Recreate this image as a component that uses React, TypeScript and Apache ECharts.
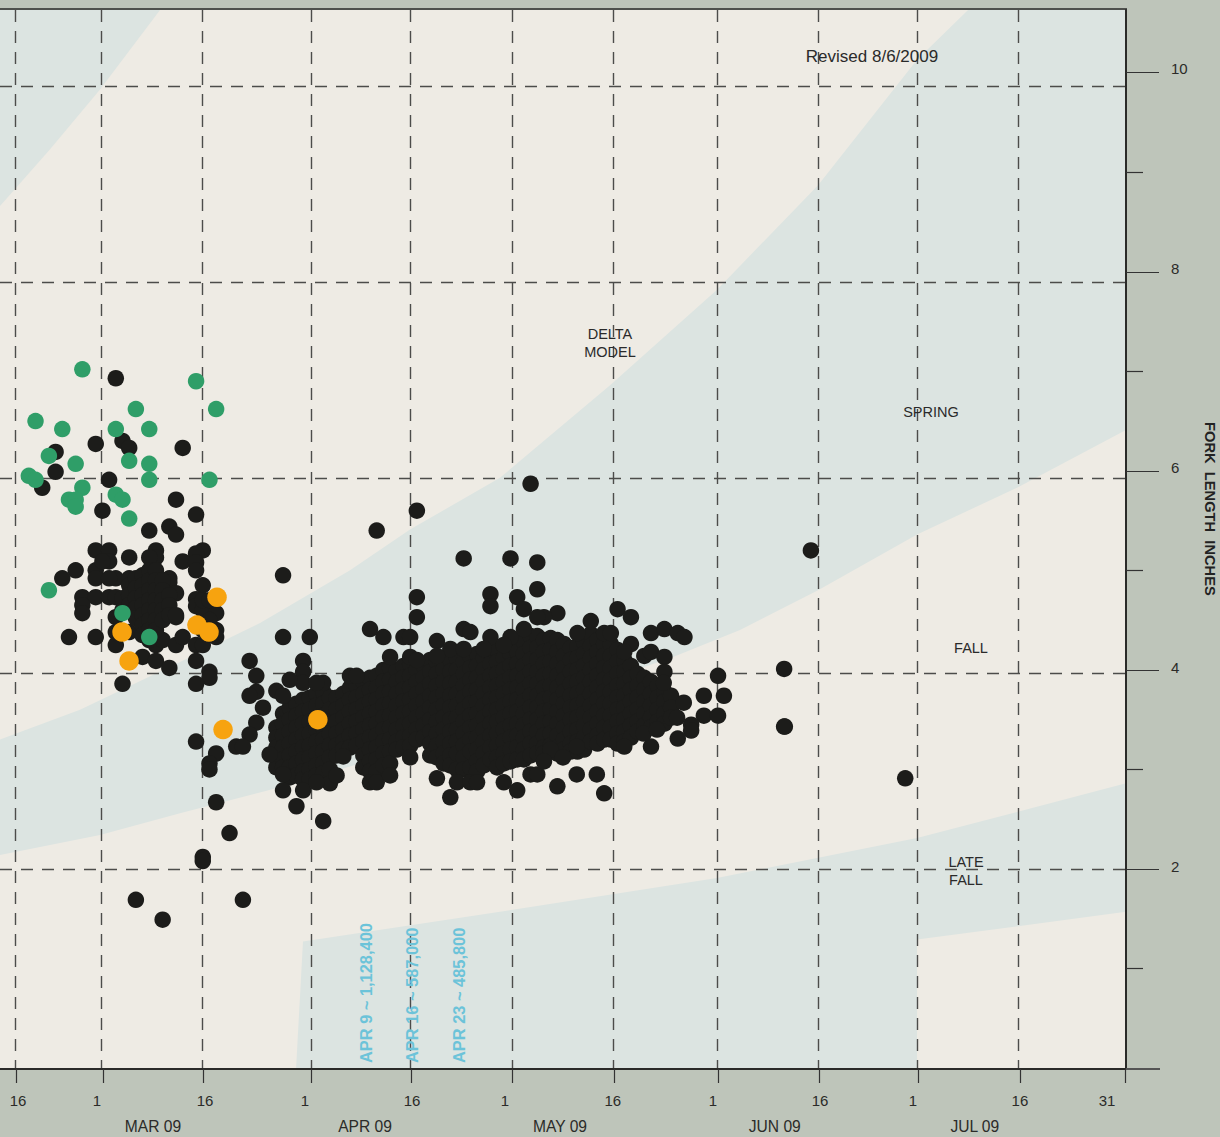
import React, { useEffect, useRef } from "react";
import * as echarts from "echarts";

// x unit: days since 1 March 2009; y unit: fork length in inches
const X_MIN = -15.31;
const X_MAX = 153;
const Y_MIN = -0.01;
const Y_MAX = 10.63;

const tickDays = [-12.81, 0.09, 15.14, 31.18, 46.17, 61.3, 76.47, 92.02, 107.12, 121.91, 137.15, 152.96];
const gridDays = [-13.02, -0.21, 14.89, 31.23, 45.98, 61.23, 76.3, 91.87, 106.97, 121.77, 136.91];
const gridInches = [9.86, 7.89, 5.93, 3.97, 2.0];
const labelDays = [-12.62, -0.81, 15.34, 30.28, 46.28, 60.18, 76.3, 91.27, 107.27, 121.16, 137.15, 150.17];
const labelTexts = ["16", "1", "16", "1", "16", "1", "16", "1", "16", "1", "16", "31"];
const monthDays = [7.56, 39.25, 68.4, 100.5, 130.4];
const monthTexts = ["MAR 09", "APR 09", "MAY 09", "JUN 09", "JUL 09"];
const majorInches = [2, 4, 6, 8, 10];
const minorInches = [1, 3, 5, 7, 9];
const inchLabelAt = [2.02, 4.02, 6.03, 8.03, 10.04];
const inchLabelTexts = ["2", "4", "6", "8", "10"];

const winterBand: number[][] = [[-15.31, 10.63], [8.61, 10.63], [-0.36, 9.83], [-7.83, 9.23], [-15.31, 8.66]];
const springBand: number[][] = [
  [-15.31, 3.3], [-3.35, 3.6], [11.6, 4.08], [23.56, 4.47], [37.01, 5.0], [45.98, 5.41], [59.43, 5.93], [75.88, 6.86],
  [91.87, 7.82], [106.97, 8.87], [121.77, 10.13], [129.39, 10.63], [153, 10.63], [153, 6.41], [137, 5.84], [121.77, 5.36],
  [106.97, 4.8], [95.3, 4.4], [85.3, 4.13], [76.3, 3.92], [66.9, 3.7], [51.96, 3.35], [37.01, 3.03], [26.55, 2.82],
  [11.6, 2.56], [-0.36, 2.34], [-15.31, 2.14],
];
const lateFallBand: number[][] = [
  [28.94, -0.01], [29.98, 1.27], [59.43, 1.57], [91.87, 1.91], [121.77, 2.31], [153, 2.86], [153, 1.57], [121.77, 1.29], [121.77, -0.01],
];

const greenFish: number[][] = [
  [-3, 7.02], [14, 6.9], [5, 6.62], [17, 6.62], [-10, 6.5], [-6, 6.42], [2, 6.42], [7, 6.42], [-8, 6.15], [-4, 6.07],
  [4, 6.1], [7, 6.07], [-11, 5.95], [-10, 5.91], [7, 5.91], [16, 5.91], [-3, 5.83], [-5, 5.71], [-4, 5.71], [-4, 5.64],
  [2, 5.76], [3, 5.71], [4, 5.52], [-8, 4.8], [3, 4.57], [7, 4.33],
];
const orangeFish: number[][] = [[17.13, 4.73], [2.93, 4.38], [14.14, 4.45], [15.93, 4.38], [3.98, 4.09], [18.03, 3.4], [32.2, 3.5]];

const earlyFish: number[][] = [
  [2, 6.93], [-1, 6.27], [3, 6.3], [4, 6.23], [-7, 6.19], [-7, 5.99], [-9, 5.83], [1, 5.91], [12, 6.23], [11, 5.71],
  [14, 5.56], [0, 5.6], [7, 5.4], [10, 5.44], [11, 5.36], [-1, 5.2], [1, 5.2], [4, 5.13], [8, 5.2], [8, 5.13], [7, 5.13],
  [15, 5.2], [14, 5.17], [12, 5.09], [14, 5.08], [14, 5.0], [-4, 5.0], [-6, 4.92], [-1, 5.0], [-1, 4.92], [1, 5.09],
  [0, 5.09], [2, 4.92], [1, 4.92], [4, 4.92], [10, 4.92], [10, 4.88], [11, 4.77], [15, 4.85], [-3, 4.73], [-1, 4.73],
  [-3, 4.65], [-3, 4.57], [1, 4.73], [2, 4.73], [14, 4.71], [14, 4.64], [15, 4.6], [17, 4.57], [11, 4.53], [2, 4.53],
  [-5, 4.33], [-1, 4.33], [2, 4.25], [2, 4.38], [4, 4.38], [7, 4.53], [8, 4.25], [9, 4.3], [11, 4.25], [12, 4.33],
  [14, 4.25], [15, 4.25], [17, 4.4], [17, 4.33], [6, 4.13], [8, 4.09], [10, 4.02], [3, 3.86], [15, 4.7], [16, 4.7],
  [16, 4.5], [16, 4.4], [14, 4.45], [15, 4.4], [3, 4.72], [3, 4.6], [4, 4.85], [4, 4.75], [4, 4.65], [5, 4.92], [5, 4.82],
  [5, 4.72], [5, 4.62], [5, 4.52], [6, 4.95], [6, 4.85], [6, 4.75], [6, 4.65], [6, 4.55], [6, 4.45], [6, 4.35], [7, 5.0],
  [7, 4.9], [7, 4.8], [7, 4.7], [7, 4.6], [7, 4.5], [7, 4.4], [7, 4.3], [8, 5.0], [8, 4.9], [8, 4.8], [8, 4.7], [8, 4.6],
  [8, 4.5], [8, 4.4], [9, 4.9], [9, 4.8], [9, 4.7], [9, 4.6], [9, 4.5], [10, 4.75], [10, 4.65], [10, 4.55], [11, 4.55],
];

const scatteredFish: number[][] = [
  [27, 4.95], [27, 4.33], [31, 4.33], [22, 4.09], [30, 4.09], [14, 4.09], [16, 3.98], [16, 3.92], [14, 3.86], [23, 3.94],
  [30, 3.98], [30, 3.87], [28, 3.9], [23, 3.78], [22, 3.74], [26, 3.79], [27, 3.74], [24, 3.62], [23, 3.47], [22, 3.35],
  [20, 3.23], [21, 3.23], [14, 3.28], [17, 3.16], [16, 3.06], [16, 3.0], [17, 2.67], [19, 2.36], [33, 2.48], [29, 2.63],
  [27, 2.79], [30, 2.79], [27, 2.95], [34, 2.86], [35, 2.94], [25, 3.15], [32, 2.87], [33, 3.87], [32, 3.87], [37, 3.94],
  [38, 3.94], [43, 4.13], [46, 4.13], [42, 4.33], [40, 4.41], [45, 4.33], [46, 4.33], [47, 4.73], [47, 4.53], [58, 4.76],
  [58, 4.64], [62, 4.73], [63, 4.61], [65, 4.81], [50, 4.29], [54, 4.41], [55, 4.38], [58, 4.33], [52, 4.21], [54, 4.21],
  [57, 4.21], [47, 4.1], [50, 4.14], [61, 4.33], [63, 4.41], [60, 4.25], [36, 3.13], [46, 3.12], [40, 2.87], [41, 2.87],
  [43, 2.94], [50, 2.91], [52, 2.72], [53, 2.87], [55, 2.87], [56, 2.87], [60, 2.87], [62, 2.79], [64, 2.95], [65, 2.95],
  [68, 4.57], [66, 4.53], [65, 4.53], [73, 4.49], [71, 4.37], [75, 4.37], [76, 4.37], [77, 4.61], [79, 4.53], [82, 4.37],
  [84, 4.41], [86, 4.37], [87, 4.33], [79, 4.26], [78, 4.18], [81, 4.14], [82, 4.18], [84, 4.13], [84, 3.98], [92.02, 3.94],
  [89.9, 3.74], [92.9, 3.74], [89.9, 3.54], [92.02, 3.54], [88, 3.45], [88, 3.39], [86, 3.31], [86.9, 3.67],
  [85.9, 3.52], [83.9, 3.87], [82, 3.23], [78, 3.23], [80.9, 3.36], [82.9, 3.4], [67, 3.2], [68.84, 3.12], [66, 3.08],
  [70.9, 2.95], [73.9, 2.95], [68, 2.83], [75, 2.76], [70.9, 3.23], [41, 5.4], [47, 5.6], [64, 5.87], [54, 5.12],
  [61, 5.12], [65, 5.08], [105.9, 5.2], [101.9, 4.01], [102, 3.43], [101.9, 3.43], [120, 2.91], [5, 1.69], [9, 1.49],
  [21, 1.69], [15, 2.12], [15, 2.08],
];

const massDays = [26, 27, 28, 29, 30, 31, 32, 33, 34, 35, 36, 37, 38, 39, 40, 41, 42, 43, 44, 45, 46, 47, 48, 49, 50, 51, 52, 53, 54, 55, 56, 57, 58, 59, 60, 61, 62, 63, 64, 65, 66, 67, 68, 69, 70, 71, 72, 73, 74, 75, 76, 77, 78, 79, 80, 81, 82, 83, 84, 85];
const massLengths: number[][] = [
  [3.42, 3.32, 3.22, 3.12, 3.02],
  [3.56, 3.46, 3.34, 3.22, 3.1, 3.02],
  [3.62, 3.5, 3.38, 3.26, 3.14, 3.02, 2.92],
  [3.66, 3.54, 3.42, 3.3, 3.18, 3.06, 2.94],
  [3.7, 3.58, 3.46, 3.34, 3.22, 3.1, 2.98, 2.9],
  [3.72, 3.6, 3.48, 3.36, 3.24, 3.12, 3.0, 2.9],
  [3.76, 3.64, 3.52, 3.4, 3.28, 3.16, 3.04, 2.94],
  [3.78, 3.66, 3.54, 3.42, 3.3, 3.18, 3.06, 2.96],
  [3.72, 3.6, 3.48, 3.36, 3.24, 3.12, 3.0],
  [3.72, 3.6, 3.48, 3.36, 3.24, 3.14],
  [3.76, 3.64, 3.52, 3.4, 3.28, 3.2],
  [3.82, 3.7, 3.58, 3.46, 3.34, 3.22],
  [3.84, 3.72, 3.6, 3.48, 3.36, 3.24],
  [3.88, 3.76, 3.64, 3.52, 3.4, 3.28, 3.14, 3.02],
  [3.92, 3.8, 3.68, 3.56, 3.44, 3.32, 3.2, 3.08, 2.98],
  [3.94, 3.82, 3.7, 3.58, 3.46, 3.34, 3.22, 3.1, 2.98],
  [4.0, 3.88, 3.76, 3.64, 3.52, 3.4, 3.28, 3.16, 3.04],
  [4.02, 3.9, 3.78, 3.66, 3.54, 3.42, 3.3, 3.18, 3.06],
  [4.0, 3.88, 3.76, 3.64, 3.52, 3.4, 3.28, 3.2],
  [4.04, 3.92, 3.8, 3.68, 3.56, 3.44, 3.32, 3.22],
  [4.06, 3.94, 3.82, 3.7, 3.58, 3.46, 3.34, 3.24],
  [4.0, 3.88, 3.76, 3.64, 3.52, 3.4, 3.3],
  [4.04, 3.92, 3.8, 3.68, 3.56, 3.44, 3.32],
  [4.1, 3.98, 3.86, 3.74, 3.62, 3.5, 3.38, 3.26, 3.14],
  [4.08, 3.96, 3.84, 3.72, 3.6, 3.48, 3.36, 3.24, 3.12],
  [4.12, 4.0, 3.88, 3.76, 3.64, 3.52, 3.4, 3.28, 3.16, 3.06],
  [4.1, 3.98, 3.86, 3.74, 3.62, 3.5, 3.38, 3.26, 3.14, 3.04],
  [4.12, 4.0, 3.88, 3.76, 3.64, 3.52, 3.4, 3.28, 3.16, 3.0],
  [4.08, 3.96, 3.84, 3.72, 3.6, 3.48, 3.36, 3.24, 3.12, 3.0],
  [4.14, 4.02, 3.9, 3.78, 3.66, 3.54, 3.42, 3.3, 3.18, 3.02],
  [4.16, 4.04, 3.92, 3.8, 3.68, 3.56, 3.44, 3.32, 3.2, 3.08, 2.98],
  [4.12, 4.0, 3.88, 3.76, 3.64, 3.52, 3.4, 3.28, 3.16, 3.04],
  [4.18, 4.06, 3.94, 3.82, 3.7, 3.58, 3.46, 3.34, 3.22, 3.1],
  [4.2, 4.08, 3.96, 3.84, 3.72, 3.6, 3.48, 3.36, 3.24, 3.12, 3.02],
  [4.24, 4.12, 4.0, 3.88, 3.76, 3.64, 3.52, 3.4, 3.28, 3.16, 3.06],
  [4.28, 4.16, 4.04, 3.92, 3.8, 3.68, 3.56, 3.44, 3.32, 3.2, 3.08],
  [4.3, 4.18, 4.06, 3.94, 3.82, 3.7, 3.58, 3.46, 3.34, 3.22, 3.1],
  [4.28, 4.16, 4.04, 3.92, 3.8, 3.68, 3.56, 3.44, 3.32, 3.2, 3.1],
  [4.34, 4.22, 4.1, 3.98, 3.86, 3.74, 3.62, 3.5, 3.38, 3.26, 3.14],
  [4.34, 4.22, 4.1, 3.98, 3.86, 3.74, 3.62, 3.5, 3.38, 3.26, 3.16],
  [4.3, 4.18, 4.06, 3.94, 3.82, 3.7, 3.58, 3.46, 3.34, 3.22, 3.16],
  [4.32, 4.2, 4.08, 3.96, 3.84, 3.72, 3.6, 3.48, 3.36, 3.24, 3.18],
  [4.3, 4.18, 4.06, 3.94, 3.82, 3.7, 3.58, 3.46, 3.34, 3.22, 3.16],
  [4.26, 4.14, 4.02, 3.9, 3.78, 3.66, 3.54, 3.42, 3.3, 3.2],
  [4.22, 4.1, 3.98, 3.86, 3.74, 3.62, 3.5, 3.38, 3.26, 3.18],
  [4.24, 4.12, 4.0, 3.88, 3.76, 3.64, 3.52, 3.4, 3.28, 3.18],
  [4.28, 4.16, 4.04, 3.92, 3.8, 3.68, 3.56, 3.44, 3.32, 3.2],
  [4.36, 4.24, 4.12, 4.0, 3.88, 3.76, 3.64, 3.52, 3.4, 3.28],
  [4.3, 4.18, 4.06, 3.94, 3.82, 3.7, 3.58, 3.46, 3.34, 3.26],
  [4.26, 4.14, 4.02, 3.9, 3.78, 3.66, 3.54, 3.42, 3.3],
  [4.26, 4.14, 4.02, 3.9, 3.78, 3.66, 3.54, 3.42, 3.3],
  [4.2, 4.08, 3.96, 3.84, 3.72, 3.6, 3.48, 3.36, 3.26],
  [4.1, 3.98, 3.86, 3.74, 3.62, 3.5, 3.38, 3.28],
  [4.04, 3.92, 3.8, 3.68, 3.56, 3.44, 3.32],
  [3.96, 3.84, 3.72, 3.6, 3.48, 3.38],
  [3.92, 3.8, 3.68, 3.56, 3.44],
  [3.88, 3.76, 3.64, 3.52, 3.42],
  [3.84, 3.72, 3.6, 3.48],
  [3.78, 3.68, 3.56, 3.46],
  [3.74, 3.62, 3.52],
];
const massFish: number[][] = massDays.flatMap((day, i) => massLengths[i].map((inches) => [day, inches]));

const INK = "#1c1c1a";
const GRID = "#4c4c4a";
const PLOT = "#eeebe4";
const BAND = "#dce4e1";
const PAPER = "#bec5ba";

const bandSeries = (points: number[][]) => ({
  type: "custom",
  z: -1,
  silent: true,
  clip: true,
  data: [[0, 5]],
  renderItem: (_: unknown, api: any) => ({
    type: "polygon",
    shape: { points: points.map((p) => api.coord(p)) },
    style: { fill: BAND },
  }),
});

const dotSeries = (data: number[][], color: string, size: number, z: number) => ({
  type: "scatter",
  data,
  symbol: "circle",
  symbolSize: size,
  itemStyle: { color, opacity: 1 },
  z,
  progressive: 0,
  silent: true,
});

const hiddenLine = { show: false, onZero: false };
const sharedX = { type: "value", min: X_MIN, max: X_MAX, position: "bottom", axisLine: hiddenLine, axisTick: { show: false }, axisLabel: { show: false }, splitLine: { show: false } };
const sharedY = { type: "value", min: Y_MIN, max: Y_MAX, position: "right", axisLine: hiddenLine, axisTick: { show: false }, axisLabel: { show: false }, splitLine: { show: false } };
const dashed = { show: true, lineStyle: { color: GRID, width: 1.4, type: [12, 9] } };
const solid = { show: true, onZero: false, lineStyle: { color: "#2a2a28", width: 2 } };
const FONT = "'Liberation Sans', sans-serif";
const labelFor = (values: number[], texts: string[]) => (v: number) => texts[values.indexOf(v)] ?? "";

const note = (text: string, x: number, y: number, size = 14.5) => ({
  type: "text", x, y, z: 50, silent: true,
  style: { text, fill: "#2a2a2a", font: `${size}px ${FONT}`, textAlign: "center", textVerticalAlign: "middle" },
});
const catchNote = (text: string, x: number) => ({
  type: "text", x, y: 1063, rotation: Math.PI / 2, z: 50, silent: true,
  style: { text, fill: "#6cc3d9", font: `bold 16.4px ${FONT}`, textAlign: "left", textVerticalAlign: "middle" },
});

const option: any = {
  animation: false,
  backgroundColor: PAPER,
  grid: { left: 0, top: 10, width: 1126, height: 1059, show: true, backgroundColor: PLOT, borderWidth: 0, z: -5 },
  xAxis: [
    { ...sharedX, axisLine: solid, axisTick: { show: true, length: 14, customValues: tickDays, lineStyle: { color: "#333", width: 1.2 } } },
    { ...sharedX, axisTick: { show: false, customValues: gridDays }, splitLine: dashed },
    { ...sharedX, axisLabel: { show: true, customValues: labelDays, hideOverlap: false, margin: 24, color: "#2b2b29", fontSize: 15, fontFamily: FONT, formatter: labelFor(labelDays, labelTexts) } },
    { ...sharedX, axisLabel: { show: true, customValues: monthDays, hideOverlap: false, margin: 49, color: "#2b2b29", fontSize: 15.6, fontFamily: FONT, formatter: labelFor(monthDays, monthTexts) } },
  ],
  yAxis: [
    { ...sharedY, axisLine: solid, axisTick: { show: true, length: 33, customValues: majorInches, lineStyle: { color: "#333", width: 1.2 } } },
    { ...sharedY, axisTick: { show: true, length: 17, customValues: minorInches, lineStyle: { color: "#333", width: 1.2 } } },
    { ...sharedY, axisTick: { show: false, customValues: gridInches }, splitLine: dashed },
    { ...sharedY, axisLabel: { show: true, customValues: inchLabelAt, hideOverlap: false, margin: 45, color: "#2b2b29", fontSize: 15, fontFamily: FONT, formatter: labelFor(inchLabelAt, inchLabelTexts) } },
  ],
  series: [
    bandSeries(winterBand),
    bandSeries(springBand),
    bandSeries(lateFallBand),
    dotSeries(earlyFish, INK, 16.5, 3),
    dotSeries(massFish, INK, 16.5, 3),
    dotSeries(scatteredFish, INK, 16.5, 3),
    dotSeries(greenFish, "#2f9e68", 16.5, 4),
    dotSeries(orangeFish, "#f7a30f", 19.5, 5),
  ],
  graphic: [
    { type: "line", z: 40, silent: true, shape: { x1: 0, y1: 9, x2: 1127, y2: 9 }, style: { stroke: "#2a2a28", lineWidth: 1.5 } },
    { type: "line", z: 1, silent: true, shape: { x1: 1126, y1: 1069, x2: 1160, y2: 1069 }, style: { stroke: "#555", lineWidth: 2 } },
    note("Revised 8/6/2009", 872, 56, 17),
    note("DELTA", 610, 334),
    note("MODEL", 610, 352),
    note("SPRING", 931, 412),
    note("FALL", 971, 648),
    note("LATE", 966, 862),
    note("FALL", 966, 880),
    catchNote("APR 9 ~ 1,128,400", 366),
    catchNote("APR 16 ~ 587,000", 412),
    catchNote("APR 23 ~ 485,800", 459),
    {
      type: "text", x: 1210, y: 422, rotation: -Math.PI / 2, z: 50, silent: true,
      style: { text: "FORK  LENGTH  INCHES", fill: "#222", font: `bold 14.7px ${FONT}`, textAlign: "left", textVerticalAlign: "middle" },
    },
  ],
};

export default function App() {
  const ref = useRef<HTMLDivElement>(null);
  useEffect(() => {
    document.body.style.margin = "0";
    document.body.style.background = PAPER;
    const chart = echarts.init(ref.current!, undefined, { renderer: "svg" });
    chart.setOption(option);
    return () => chart.dispose();
  }, []);
  return <div ref={ref} style={{ position: "absolute", left: 0, top: 0, width: 1220, height: 1137 }} />;
}
